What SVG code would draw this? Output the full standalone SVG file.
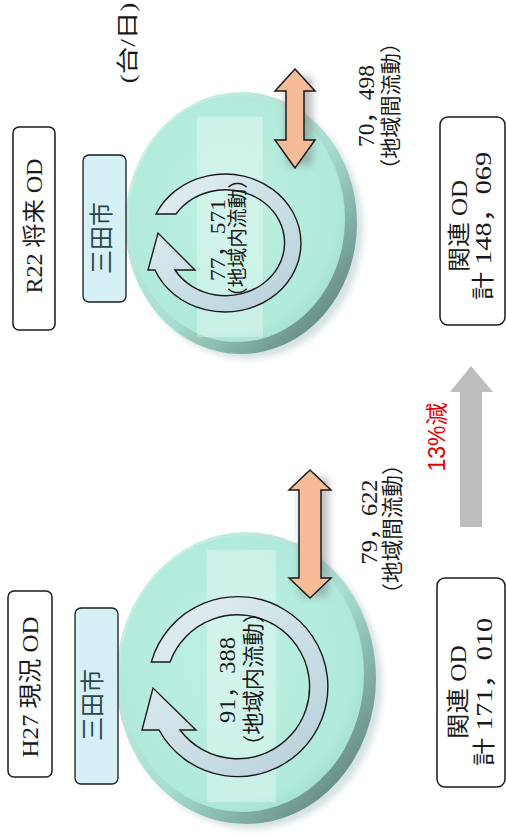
<svg xmlns="http://www.w3.org/2000/svg" width="506" height="836" viewBox="0 0 506 836">
<defs>
<style>
.t{font-family:'Liberation Serif','Noto Sans CJK JP',serif;fill:#1a1a1a;text-anchor:middle;dominant-baseline:central}
.box{fill:#fff;stroke:#1a1a1a;stroke-width:1.5}
.city{fill:#d6f1f5;stroke:#1a1a1a;stroke-width:1.3}
.cityt{fill:#2d4650}
.ring{fill:url(#ringg);stroke:#1a1a1a;stroke-width:1.4}
.dbl{fill:#f6bc97;stroke:#1a1a1a;stroke-width:1.5}
.band{fill:#ffffff;opacity:0.32}
</style>
<linearGradient id="rim" x1="0" y1="0" x2="1" y2="1">
<stop offset="0" stop-color="#d4f6ee"/>
<stop offset="0.55" stop-color="#a6dccf"/>
<stop offset="1" stop-color="#4d6d66"/>
</linearGradient>
<radialGradient id="face" cx="0.45" cy="0.45" r="0.6">
<stop offset="0" stop-color="#bff0e3"/>
<stop offset="0.85" stop-color="#b0eadb"/>
<stop offset="1" stop-color="#a2ddcf"/>
</radialGradient>
<linearGradient id="ringg" x1="0" y1="0" x2="1" y2="1">
<stop offset="0" stop-color="#e6f1f4"/>
<stop offset="1" stop-color="#b4d0d9"/>
</linearGradient>
<filter id="blur" x="-50%" y="-50%" width="200%" height="200%"><feGaussianBlur stdDeviation="4"/></filter>
<filter id="blur2" x="-20%" y="-20%" width="140%" height="140%"><feGaussianBlur stdDeviation="3"/></filter>
</defs>

<g id="disk-h27">
<ellipse cx="252" cy="684" rx="130" ry="145" fill="#8aa" opacity="0.35" filter="url(#blur2)"/>
<ellipse cx="246" cy="678" rx="130" ry="146" fill="url(#rim)"/>
<ellipse cx="242" cy="674" rx="122" ry="138" fill="url(#face)"/>
<rect class="band" x="207" y="550" width="69" height="252"/>
<path class="ring" d="M151.3,662 A90,90 0 1 1 159,730 L142,730 L153,688 L196,730 L180,730 A72,72 0 1 0 170,662 Z"/>
<text class="t" font-size="23" textLength="86" lengthAdjust="spacingAndGlyphs" transform="translate(227,680) rotate(-90)">91，388</text>
<text class="t" font-size="22" textLength="156" lengthAdjust="spacingAndGlyphs" transform="translate(253,679) rotate(-90)">（地域内流動）</text>
</g>

<g id="disk-r22">
<ellipse cx="247" cy="229" rx="116" ry="130" fill="#8aa" opacity="0.35" filter="url(#blur2)"/>
<ellipse cx="241" cy="223" rx="116" ry="131" fill="url(#rim)"/>
<ellipse cx="237" cy="219" rx="108" ry="123" fill="url(#face)"/>
<rect class="band" x="197" y="117" width="66" height="220"/>
<path class="ring" d="M156,214 A76,69 0 1 1 155,270 L148,270 L158,233 L195,270 L175,270 A59,53 0 1 0 176,214 Z"/>
<text class="t" font-size="22" textLength="82" lengthAdjust="spacingAndGlyphs" transform="translate(217,240) rotate(-90)">77，571</text>
<text class="t" font-size="20" textLength="138" lengthAdjust="spacingAndGlyphs" transform="translate(238,238) rotate(-90)">（地域内流動）</text>
</g>

<g id="label-h27">
<rect class="box" x="8" y="591" width="44" height="186" rx="6"/>
<text class="t" font-size="23" textLength="141" lengthAdjust="spacingAndGlyphs" transform="translate(30,687) rotate(-90)">H27 現況 OD</text>
</g>
<g id="label-r22">
<rect class="box" x="13" y="127" width="42" height="203" rx="6"/>
<text class="t" font-size="23" textLength="135" lengthAdjust="spacingAndGlyphs" transform="translate(34,226) rotate(-90)">R22 将来 OD</text>
</g>
<g id="city-h27">
<rect class="city" x="75" y="608" width="43" height="176" rx="6"/>
<text class="t cityt" font-size="24" transform="translate(93,705) rotate(-90)">三田市</text>
</g>
<g id="city-r22">
<rect class="city" x="83" y="155" width="43" height="147" rx="6"/>
<text class="t cityt" font-size="24" transform="translate(102,238) rotate(-90)">三田市</text>
</g>

<g id="flow-h27">
<rect x="300" y="478" width="28" height="118" fill="#777" opacity="0.5" filter="url(#blur)"/>
<path class="dbl" d="M310,470 L331,490 L321,490 L321,578 L331,578 L310,598 L289,578 L299,578 L299,490 L289,490 Z"/>
<text class="t" font-size="23" textLength="85" lengthAdjust="spacingAndGlyphs" transform="translate(369,522) rotate(-90)">79，622</text>
<text class="t" font-size="21.5" textLength="151" lengthAdjust="spacingAndGlyphs" transform="translate(393,529) rotate(-90)">（地域間流動）</text>
</g>
<g id="flow-r22">
<rect x="286" y="77" width="26" height="88" fill="#777" opacity="0.5" filter="url(#blur)"/>
<path class="dbl" d="M295,69 L315,91 L304,91 L304,140 L315,140 L295,168 L275,140 L286,140 L286,91 L275,91 Z"/>
<text class="t" font-size="23" textLength="82" lengthAdjust="spacingAndGlyphs" transform="translate(366,106) rotate(-90)">70，498</text>
<text class="t" font-size="21" textLength="148" lengthAdjust="spacingAndGlyphs" transform="translate(391,106) rotate(-90)">（地域間流動）</text>
</g>

<g id="unit">
<text class="t" font-size="22" textLength="81" lengthAdjust="spacingAndGlyphs" transform="translate(127,43) rotate(-90)">(台/日)</text>
</g>

<g id="total-h27">
<rect class="box" x="437" y="578" width="68" height="209" rx="8"/>
<text class="t" font-size="23" textLength="94" lengthAdjust="spacingAndGlyphs" transform="translate(458,692) rotate(-90)">関連 OD</text>
<text class="t" font-size="23" textLength="148" lengthAdjust="spacingAndGlyphs" transform="translate(484,692) rotate(-90)">計 171，010</text>
</g>
<g id="total-r22">
<rect class="box" x="440" y="117" width="65" height="208" rx="8"/>
<text class="t" font-size="23" textLength="92" lengthAdjust="spacingAndGlyphs" transform="translate(459,226) rotate(-90)">関連 OD</text>
<text class="t" font-size="23" textLength="148" lengthAdjust="spacingAndGlyphs" transform="translate(483,226) rotate(-90)">計 148，069</text>
</g>

<g id="connectors">
<path d="M471,366 L493,392 L482,392 L482,527 L460,527 L460,392 L450,392 Z" fill="#bdbdbd"/>
<text font-family="'Liberation Sans','Noto Sans CJK JP',sans-serif" font-size="23" fill="#e60000" text-anchor="middle" dominant-baseline="central" transform="translate(437,437) rotate(-90)">13%減</text>
</g>
</svg>
